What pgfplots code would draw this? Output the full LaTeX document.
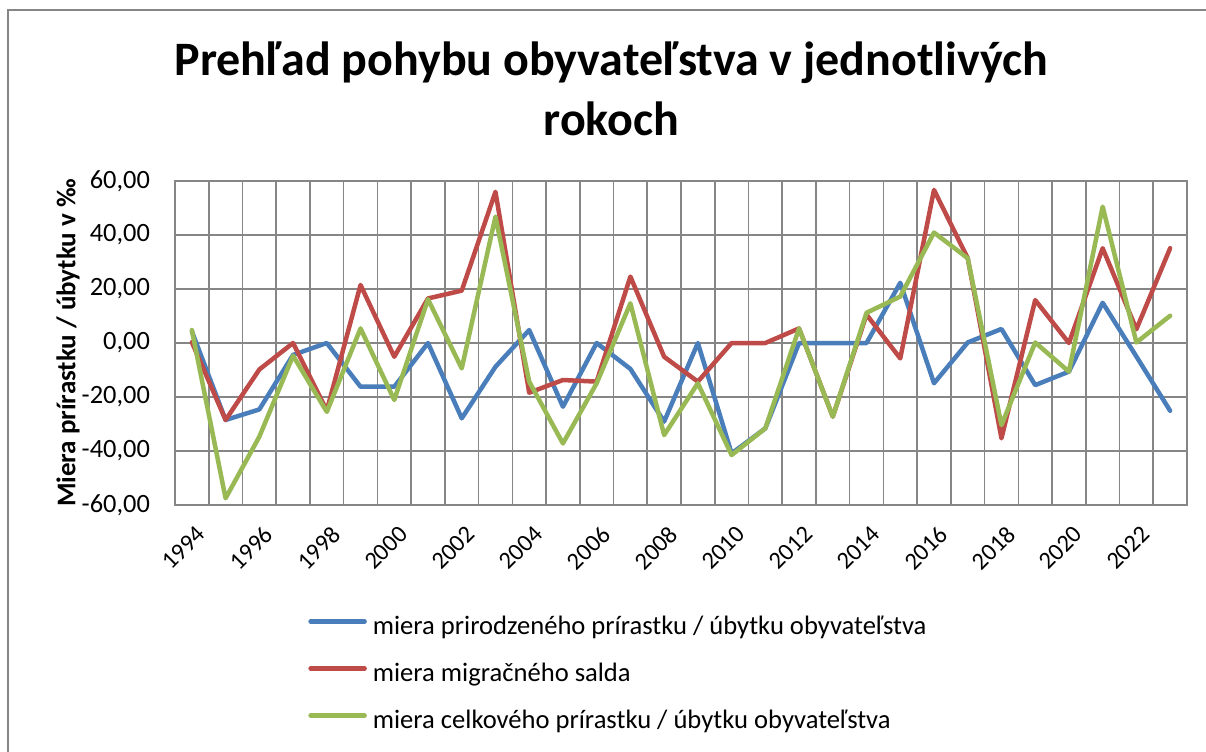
\documentclass[border=0pt]{standalone}
\usepackage{fontspec}
\setmainfont{Carlito}
\usepackage{pgfplots}
\pgfplotsset{compat=1.18}
\definecolor{sblue}{HTML}{4A7EBB}
\definecolor{sred}{HTML}{BE4B48}
\definecolor{sgreen}{HTML}{98B954}
\definecolor{gridgray}{HTML}{868686}
\begin{document}
\begin{tikzpicture}[x=1pt,y=1pt]
\useasboundingbox (0,0) rectangle (603,375.5);
\clip (0,0) rectangle (603,375.5);
\fill[white] (0,0) rectangle (603,375.5);
\draw[gridgray, line width=1pt] (3.75,-20) -- (3.75,370.25) -- (640,370.25);
\node[font=\fontsize{24}{30}\selectfont\bfseries, align=center] at (305.75,331) {Prehľad pohybu obyvateľstva v jednotlivých\\rokoch};
\begin{axis}[
  at={(87.5pt,123pt)}, anchor=south west,
  scale only axis, width=506pt, height=162pt,
  xmin=-0.5, xmax=29.5, ymin=-60, ymax=60,
  xtick={0,2,...,28},
  xticklabels={1994,1996,1998,2000,2002,2004,2006,2008,2010,2012,2014,2016,2018,2020,2022},
  minor xtick={-0.5,0.5,...,29.5},
  xminorgrids=true, xmajorgrids=false, ymajorgrids=true,
  ytick={-60,-40,...,60},
  grid style={gridgray, line width=0.8pt},
  minor grid style={gridgray, line width=0.8pt},
  major grid style={gridgray, line width=0.8pt},
  axis line style={gridgray, line width=0.8pt},
  major tick length=0pt, minor tick length=0pt,
  yticklabel style={font=\fontsize{13.2}{15}\selectfont,
    /pgf/number format/fixed, /pgf/number format/fixed zerofill,
    /pgf/number format/precision=2, /pgf/number format/use comma,
    /pgf/number format/assume math mode=true, xshift=-9pt},
  xticklabel style={font=\fontsize{12.2}{14}\selectfont, rotate=45, anchor=north east, inner sep=2pt, yshift=-6pt, xshift=-3.5pt},
  ylabel={Miera prírastku / úbytku v ‰},
  ylabel style={font=\fontsize{13.5}{16}\selectfont\bfseries, at={(axis description cs:-0.1057,0.5)}, anchor=center},
  legend style={at={(axis description cs:0.1314,-0.3426)}, anchor=north west, draw=none, fill=none,
    font=\fontsize{13.3}{16}\selectfont, row sep=11.5pt, inner sep=0pt,
    nodes={inner sep=0pt, text height=9pt, text depth=3pt},
    /tikz/every odd column/.append style={column sep=3pt}},
  legend cell align=left,
  legend image code/.code={\draw[#1, line width=2.25pt, line cap=round] (0pt,3.5pt) -- (27pt,3.5pt);},
  clip=false,
]
\addplot[sblue, line width=2.25pt, line join=round, line cap=round] coordinates {
(0,4.3) (1,-28.5) (2,-24.6) (3,-4.4) (4,0) (5,-16.2) (6,-16.2) (7,0) (8,-27.9) (9,-8.8)
(10,4.8) (11,-23.6) (12,0) (13,-9.6) (14,-29.1) (15,0) (16,-40.9) (17,-31.6) (18,0) (19,0)
(20,0) (21,22.3) (22,-14.9) (23,0.2) (24,5.2) (25,-15.6) (26,-10.6) (27,14.9) (28,-5) (29,-25.1)};
\addlegendentry{miera prirodzeného prírastku / úbytku obyvateľstva}
\addplot[sred, line width=2.25pt, line join=round, line cap=round] coordinates {
(0,0.3) (1,-28.5) (2,-9.8) (3,0) (4,-25) (5,21.5) (6,-5.1) (7,16.5) (8,19.4) (9,56)
(10,-18.4) (11,-13.7) (12,-14.3) (13,24.6) (14,-5.1) (15,-14.3) (16,0) (17,0) (18,5.4) (19,-27.3)
(20,10.5) (21,-5.7) (22,56.7) (23,31.4) (24,-35.3) (25,15.9) (26,0) (27,35.1) (28,5.1) (29,35.1)};
\addlegendentry{miera migračného salda}
\addplot[sgreen, line width=2.25pt, line join=round, line cap=round] coordinates {
(0,4.8) (1,-57.5) (2,-34.7) (3,-4.7) (4,-25.5) (5,5.4) (6,-21.1) (7,16.2) (8,-9.4) (9,46.8)
(10,-14.3) (11,-37.2) (12,-14.9) (13,14.7) (14,-34.1) (15,-14.9) (16,-41.5) (17,-31.6) (18,5.4) (19,-27.3)
(20,11.2) (21,17.2) (22,40.9) (23,31.4) (24,-30.4) (25,0.2) (26,-10.6) (27,50.5) (28,0.2) (29,10.1)};
\addlegendentry{miera celkového prírastku / úbytku obyvateľstva}
\end{axis}
\end{tikzpicture}
\end{document}
